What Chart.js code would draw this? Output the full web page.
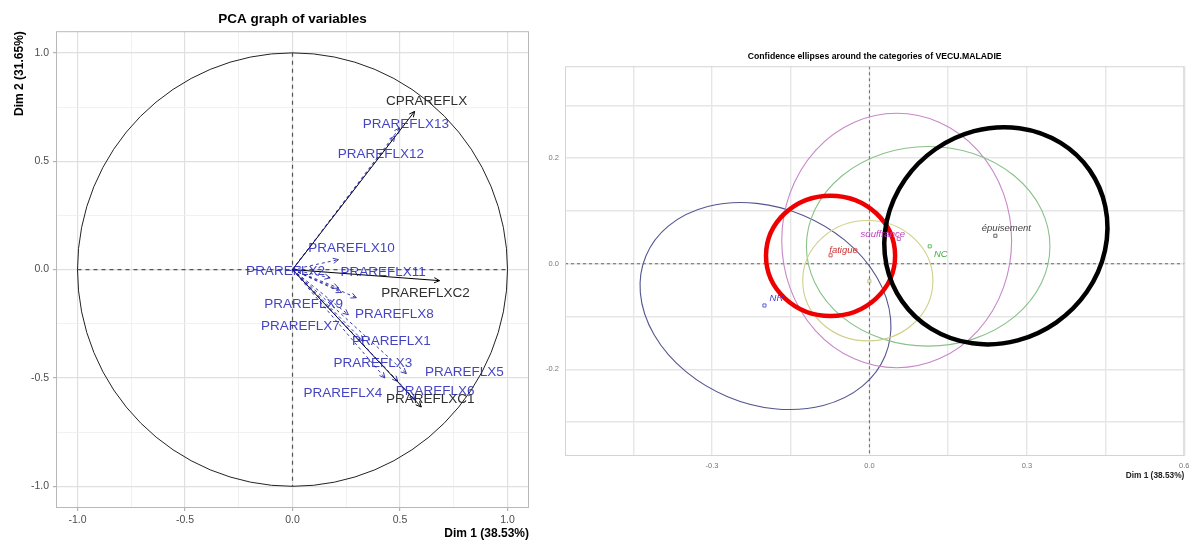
<!DOCTYPE html>
<html>
<head>
<meta charset="utf-8">
<script src="https://cdn.jsdelivr.net/npm/chart.js@4/dist/chart.umd.min.js"></script>
<style>
html,body{margin:0;padding:0;background:#fff;}
body{width:1192px;height:544px;position:relative;overflow:hidden;}
#leftBox{position:absolute;left:0;top:0;width:540px;height:544px;}
#rightBox{position:absolute;left:540px;top:0;width:652px;height:544px;}
canvas{display:block;}
</style>
</head>
<body>
<div id="leftBox"><canvas id="pca" width="540" height="544"></canvas></div>
<div id="rightBox"><canvas id="ell" width="652" height="544"></canvas></div>
<script>
// ================= DATA : PCA graph of variables =================
const pcaTitle = 'PCA graph of variables';
const pcaXTitle = 'Dim 1 (38.53%)';
const pcaYTitle = 'Dim 2 (31.65%)';
const varNames = ['PRAREFLX11','PRAREFLX2','PRAREFLX9','PRAREFLX8','PRAREFLX7','PRAREFLX10',
                  'PRAREFLX1','PRAREFLX3','PRAREFLX4','PRAREFLX5','PRAREFLX6','PRAREFLX12','PRAREFLX13',
                  'CPRAREFLX','PRAREFLXC2','PRAREFLXC1'];
const varDim1 = [0.175, 0.214, 0.228, 0.297, 0.260, 0.214, 0.330, 0.430, 0.490, 0.530, 0.570, 0.476, 0.499, 0.568, 0.684, 0.599];
const varDim2 = [-0.038,-0.085,-0.106,-0.130,-0.208, 0.046,-0.330,-0.500,-0.516,-0.480,-0.600, 0.616, 0.654, 0.730,-0.051,-0.634];
const varSupplementary = [true,true,true,true,true,true,true,true,true,true,true,true,true,false,false,false];
const pcaMajorTicks = [-1, -0.5, 0, 0.5, 1];
const pcaMinorTicks = [-0.75, -0.25, 0.25, 0.75];

// ================= DATA : confidence ellipses =================
const ellTitle = 'Confidence ellipses around the categories of VECU.MALADIE';
const ellXTitle = 'Dim 1 (38.53%)';
const catNames = ['NR', 'fatigue', 'souffrance', 'NC', 'épuisement', 'oui'];
const catDim1 = [-0.200, -0.074, 0.056, 0.115, 0.240, 0.000];
const catDim2 = [-0.079, 0.016, 0.047, 0.033, 0.053, -0.033];
const ellCenterDim1 = [-0.198, -0.074, 0.052, 0.112, 0.241, -0.003];
const ellCenterDim2 = [-0.080, 0.015, 0.044, 0.033, 0.053, -0.032];
const ellSemiA = [0.247, 0.123, 0.219, 0.232, 0.218, 0.124];
const ellSemiB = [0.186, 0.114, 0.241, 0.189, 0.200, 0.114];
const ellAngleDeg = [-22.7, 0, 0, 0, 35, 0];
const ellXMajorTicks = [-0.3, 0, 0.3, 0.6];
const ellXMinorTicks = [-0.45, -0.15, 0.15, 0.45];
const ellYMajorTicks = [-0.2, 0, 0.2];
const ellYMinorTicks = [-0.3, -0.1, 0.1, 0.3];

// ================= STYLES / LAYOUT =================
const FONT = "'Liberation Sans', Arial, Helvetica, sans-serif";
Chart.defaults.font.family = FONT;
Chart.defaults.animation = false;

// label offsets in pixels from the arrow tip (left panel)
const varLabelOffset = {
  'PRAREFLX11':[53,-6], 'PRAREFLX2':[-53,-17], 'PRAREFLX9':[-38,12], 'PRAREFLX8':[38,17],
  'PRAREFLX7':[-48,12], 'PRAREFLX10':[13,-11], 'PRAREFLX1':[28,0], 'PRAREFLX3':[-12,-15],
  'PRAREFLX4':[-55,12], 'PRAREFLX5':[58,-1], 'PRAREFLX6':[20,-8], 'PRAREFLX12':[-14,18],
  'PRAREFLX13':[6,-4], 'CPRAREFLX':[12,-10], 'PRAREFLXC2':[-14,13], 'PRAREFLXC1':[9,-8]
};
const supColor = 'rgba(35,35,185,0.85)';
const supLine = 'rgba(25,25,160,0.85)';
const actColor = '#2e2e2e';

const catStyle = {
  'NR':         {color:'#55558f', text:'#3a3ad0', width:1.1, label:[12,-7], showLabel:true},
  'fatigue':    {color:'#ee0000', text:'#cc3333', width:4.5, label:[13,-5], showLabel:true},
  'souffrance': {color:'#c887c8', text:'#c040c0', width:1.1, label:[-16,-5], showLabel:true},
  'NC':         {color:'#88c288', text:'#40b040', width:1.1, label:[11,8], showLabel:true},
  'épuisement': {color:'#000000', text:'#444444', width:4.5, label:[11,-7], showLabel:true},
  'oui':        {color:'#d0d08a', text:'#b8b870', width:1.1, label:[8,-5], showLabel:false}
};
const ellDrawOrder = ['NR','souffrance','NC','oui','fatigue','épuisement'];

const near = (v, list) => list.some(t => Math.abs(t - v) < 1e-9);

// ---------- plugins ----------
const panelBorder = {
  id: 'panelBorder',
  afterDraw(chart, args, opts) {
    const {ctx, chartArea: a} = chart;
    ctx.save();
    ctx.strokeStyle = opts.color || '#b3b3b3';
    ctx.lineWidth = 1;
    ctx.strokeRect(a.left + 0.5, a.top + 0.5, a.right - a.left - 1, a.bottom - a.top - 1);
    ctx.restore();
  }
};

const pcaDecor = {
  id: 'pcaDecor',
  beforeDatasetsDraw(chart) {
    const {ctx, scales: {x, y}} = chart;
    const cx = x.getPixelForValue(0), cy = y.getPixelForValue(0);
    ctx.save();
    ctx.strokeStyle = '#555';
    ctx.lineWidth = 1.2;
    ctx.setLineDash([4, 4]);
    ctx.beginPath();
    ctx.moveTo(x.getPixelForValue(-1), cy); ctx.lineTo(x.getPixelForValue(1), cy);
    ctx.moveTo(cx, y.getPixelForValue(1)); ctx.lineTo(cx, y.getPixelForValue(-1));
    ctx.stroke();
    ctx.setLineDash([]);
    ctx.strokeStyle = '#222';
    ctx.lineWidth = 1;
    ctx.beginPath();
    ctx.ellipse(cx, cy, x.getPixelForValue(1) - cx, cy - y.getPixelForValue(1), 0, 0, Math.PI * 2);
    ctx.stroke();
    ctx.restore();
  },
  afterDatasetsDraw(chart) {
    const {ctx, scales: {x, y}} = chart;
    const ox = x.getPixelForValue(0), oy = y.getPixelForValue(0);
    ctx.save();
    varNames.forEach((n, i) => {
      const tx = x.getPixelForValue(varDim1[i]), ty = y.getPixelForValue(varDim2[i]);
      const ang = Math.atan2(ty - oy, tx - ox);
      const L = 6, sp = Math.PI / 7;
      ctx.setLineDash([]);
      ctx.strokeStyle = varSupplementary[i] ? supLine : '#000';
      ctx.lineWidth = 1;
      ctx.beginPath();
      ctx.moveTo(tx - L * Math.cos(ang - sp), ty - L * Math.sin(ang - sp));
      ctx.lineTo(tx, ty);
      ctx.lineTo(tx - L * Math.cos(ang + sp), ty - L * Math.sin(ang + sp));
      ctx.stroke();
    });
    ctx.font = "13.5px " + FONT;
    ctx.textAlign = 'center';
    ctx.textBaseline = 'middle';
    varNames.forEach((n, i) => {
      const tx = x.getPixelForValue(varDim1[i]), ty = y.getPixelForValue(varDim2[i]);
      const off = varLabelOffset[n] || [0, 0];
      ctx.fillStyle = varSupplementary[i] ? supColor : actColor;
      ctx.fillText(n, tx + off[0], ty + off[1]);
    });
    ctx.restore();
  }
};

const ellDecor = {
  id: 'ellDecor',
  beforeDatasetsDraw(chart) {
    const {ctx, chartArea: a, scales: {x, y}} = chart;
    const cx = x.getPixelForValue(0), cy = y.getPixelForValue(0);
    ctx.save();
    ctx.strokeStyle = '#666';
    ctx.lineWidth = 1;
    ctx.setLineDash([3, 3]);
    ctx.beginPath();
    ctx.moveTo(a.left, cy); ctx.lineTo(a.right, cy);
    ctx.moveTo(cx, a.top); ctx.lineTo(cx, a.bottom);
    ctx.stroke();
    ctx.setLineDash([]);
    ellDrawOrder.forEach(name => {
      const i = catNames.indexOf(name);
      const st = catStyle[name];
      const px = x.getPixelForValue(ellCenterDim1[i]);
      const py = y.getPixelForValue(ellCenterDim2[i]);
      const ra = x.getPixelForValue(ellCenterDim1[i] + ellSemiA[i]) - px;
      const rb = py - y.getPixelForValue(ellCenterDim2[i] + ellSemiB[i]);
      ctx.strokeStyle = st.color;
      ctx.lineWidth = st.width;
      ctx.beginPath();
      ctx.ellipse(px, py, ra, rb, -ellAngleDeg[i] * Math.PI / 180, 0, Math.PI * 2);
      ctx.stroke();
    });
    ctx.restore();
  },
  afterDatasetsDraw(chart) {
    const {ctx, scales: {x, y}} = chart;
    ctx.save();
    ctx.font = "italic 9.5px " + FONT;
    ctx.textAlign = 'center';
    ctx.textBaseline = 'middle';
    catNames.forEach((n, i) => {
      const st = catStyle[n];
      if (!st.showLabel) return;
      const px = x.getPixelForValue(catDim1[i]), py = y.getPixelForValue(catDim2[i]);
      ctx.fillStyle = st.text;
      ctx.fillText(n, px + st.label[0], py + st.label[1]);
    });
    ctx.restore();
  }
};

// ---------- left chart ----------
const pcaAllTicks = pcaMajorTicks.concat(pcaMinorTicks).sort((a, b) => a - b);
const pcaGrid = {
  color: c => near(c.tick.value, pcaMajorTicks) ? '#e0e0e0' : '#eeeeee',
  lineWidth: c => near(c.tick.value, pcaMajorTicks) ? 1.2 : 0.8,
  tickColor: c => near(c.tick.value, pcaMajorTicks) ? '#b3b3b3' : 'rgba(0,0,0,0)',
  tickLength: 3,
  drawTicks: true
};
const pcaTickCb = v => near(v, pcaMajorTicks) ? Number(v).toFixed(1) : '';

new Chart(document.getElementById('pca'), {
  type: 'scatter',
  data: {
    datasets: varNames.map((n, i) => ({
      label: n,
      data: [{x: 0, y: 0}, {x: varDim1[i], y: varDim2[i]}],
      showLine: true,
      borderColor: varSupplementary[i] ? supLine : '#000',
      borderWidth: 1,
      borderDash: varSupplementary[i] ? [3, 3] : [],
      pointRadius: 0,
      fill: false
    }))
  },
  options: {
    responsive: false,
    events: [],
    layout: {padding: {left: 12, right: 11, top: 0, bottom: 3}},
    plugins: {
      legend: {display: false},
      tooltip: {enabled: false},
      title: {display: true, text: pcaTitle, fullSize: false, color: '#000',
              font: {size: 13.5, weight: 'bold'}, padding: {top: 11, bottom: 4}},
      panelBorder: {color: '#b8b8b8'}
    },
    scales: {
      x: {
        type: 'linear', min: -1.1, max: 1.1,
        afterBuildTicks: s => { s.ticks = pcaAllTicks.map(v => ({value: v})); },
        afterFit: s => { s.height = 33; },
        ticks: {callback: pcaTickCb, autoSkip: false, maxRotation: 0, color: '#4d4d4d', font: {size: 10.5}, padding: 3},
        grid: pcaGrid,
        border: {display: false},
        title: {display: true, text: pcaXTitle, align: 'end', color: '#000', font: {size: 12, weight: 'bold'}, padding: {top: 0, bottom: 0}}
      },
      y: {
        type: 'linear', min: -1.1, max: 1.1,
        afterBuildTicks: s => { s.ticks = pcaAllTicks.map(v => ({value: v})); },
        afterFit: s => { s.width = 44; },
        ticks: {callback: pcaTickCb, autoSkip: false, color: '#4d4d4d', font: {size: 10.5}, padding: 4},
        grid: pcaGrid,
        border: {display: false},
        title: {display: true, text: pcaYTitle, align: 'end', color: '#000', font: {size: 12, weight: 'bold'}, padding: {top: 0, bottom: 0}}
      }
    }
  },
  plugins: [pcaDecor, panelBorder]
});

// ---------- right chart ----------
const exAll = ellXMajorTicks.concat(ellXMinorTicks).sort((a, b) => a - b);
const eyAll = ellYMajorTicks.concat(ellYMinorTicks).sort((a, b) => a - b);
const ellGrid = {
  color: '#e6e6e6',
  lineWidth: 1.4,
  tickColor: 'rgba(0,0,0,0)',
  tickLength: 3,
  drawTicks: true
};

new Chart(document.getElementById('ell'), {
  type: 'scatter',
  data: {
    datasets: catNames.map((n, i) => ({
      label: n,
      data: [{x: catDim1[i], y: catDim2[i]}],
      pointStyle: 'rect',
      pointRadius: 2.2,
      pointBorderWidth: 0.8,
      backgroundColor: 'rgba(0,0,0,0)',
      borderColor: catStyle[n].text
    }))
  },
  options: {
    responsive: false,
    events: [],
    layout: {padding: {left: 0, right: 3, top: 0, bottom: 63}},
    plugins: {
      legend: {display: false},
      tooltip: {enabled: false},
      title: {display: true, text: ellTitle, fullSize: false, color: '#000',
              font: {size: 8.7, weight: 'bold'}, padding: {top: 51, bottom: 4.8}},
      panelBorder: {color: '#d4d4d4'}
    },
    scales: {
      x: {
        type: 'linear', min: -0.58, max: 0.6,
        afterBuildTicks: s => { s.ticks = exAll.map(v => ({value: v})); },
        afterFit: s => { s.height = 25; },
        ticks: {callback: v => near(v, ellXMajorTicks) ? Number(v).toFixed(1) : '', autoSkip: false, maxRotation: 0,
                color: '#777', font: {size: 7.5}, padding: 2.5},
        grid: ellGrid,
        border: {display: false},
        title: {display: true, text: ellXTitle, align: 'end', color: '#222', font: {size: 8.3, weight: 'bold'}, padding: {top: 0, bottom: 0}}
      },
      y: {
        type: 'linear', min: -0.364, max: 0.374,
        afterBuildTicks: s => { s.ticks = eyAll.map(v => ({value: v})); },
        afterFit: s => { s.width = 25; },
        ticks: {callback: v => near(v, ellYMajorTicks) ? Number(v).toFixed(1) : '', autoSkip: false,
                color: '#777', font: {size: 7.5}, padding: 3},
        grid: ellGrid,
        border: {display: false}
      }
    }
  },
  plugins: [ellDecor, panelBorder]
});
</script>
</body>
</html>
